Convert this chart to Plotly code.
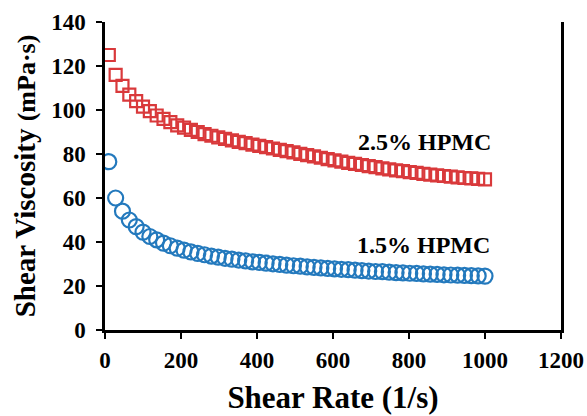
import plotly.graph_objects as go

shear_rate = [10, 28, 46, 64, 82, 100, 118, 136, 154, 172, 190, 208, 226, 244, 262, 280,
              298, 316, 334, 352, 370, 388, 406, 424, 442, 460, 478, 496, 514, 532, 550,
              568, 586, 604, 622, 640, 658, 676, 694, 712, 730, 748, 766, 784, 802, 820,
              838, 856, 874, 892, 910, 928, 946, 964, 982, 1000]

visc_25 = [125, 116, 111, 107, 104, 101.5, 99.5, 97.5, 96, 94.5, 93, 92, 91, 90, 89, 88.3,
           87.6, 86.9, 86.2, 85.5, 84.9, 84.3, 83.7, 83.1, 82.5, 81.9, 81.3, 80.7, 80.1, 79.5,
           78.9, 78.3, 77.7, 77.1, 76.5, 76, 75.5, 75, 74.5, 74, 73.5, 73, 72.6, 72.2, 71.8,
           71.4, 71, 70.6, 70.3, 70, 69.7, 69.4, 69.1, 68.9, 68.7, 68.5]

visc_15 = [76.5, 60, 54, 50, 47, 44.5, 42.5, 41, 39.5, 38.3, 37.2, 36.3, 35.5, 34.8, 34.2,
           33.6, 33.1, 32.6, 32.2, 31.8, 31.4, 31, 30.7, 30.4, 30.1, 29.8, 29.5, 29.2, 29,
           28.7, 28.5, 28.2, 28, 27.8, 27.6, 27.4, 27.2, 27, 26.8, 26.6, 26.5, 26.3, 26.1,
           26, 25.8, 25.7, 25.5, 25.4, 25.3, 25.1, 25, 24.9, 24.8, 24.7, 24.6, 24.5]

labels = ["2.5% HPMC", "1.5% HPMC"]
label_x = [1020, 1018]
label_y = [85.5, 38.5]

RED = "#d9393b"
BLUE = "#2379bd"
FONT = "Liberation Serif"

fig = go.Figure()
fig.add_trace(go.Scatter(
    x=shear_rate, y=visc_25, mode="markers", name=labels[0],
    marker=dict(symbol="square-open", size=12, color=RED, line=dict(width=2.2, color=RED)),
))
fig.add_trace(go.Scatter(
    x=shear_rate, y=visc_15, mode="markers", name=labels[1],
    marker=dict(symbol="circle-open", size=15, color=BLUE, line=dict(width=2.2, color=BLUE)),
))

for t, xv, yv in zip(labels, label_x, label_y):
    fig.add_annotation(x=xv, y=yv, text="<b>" + t + "</b>", showarrow=False,
                       xanchor="right", yanchor="middle",
                       font=dict(family=FONT, size=24, color="black"))

axis_common = dict(
    showgrid=False, zeroline=False, showline=True, linecolor="black", linewidth=2.5,
    ticks="outside", ticklen=6, tickwidth=2, tickcolor="black", automargin=False,
    tickfont=dict(family=FONT, size=23, color="black"),
)

fig.update_xaxes(range=[0, 1200], dtick=200, tickprefix="<b>", ticksuffix="</b>",
                 ticklabelstandoff=2,
                 title=dict(text="<b>Shear Rate (1/s)</b>", standoff=14,
                            font=dict(family=FONT, size=31, color="black")),
                 **axis_common)
fig.update_yaxes(range=[0, 140], dtick=20, tickprefix="<b>", ticksuffix="</b>",
                 mirror=True, ticklabelstandoff=6,
                 title=dict(text="<b>Shear Viscosity <span style='font-size:26px'>(mPa·s)</span></b>",
                            standoff=8,
                            font=dict(family=FONT, size=29, color="black")),
                 **axis_common)

fig.update_layout(
    width=587, height=416, showlegend=False,
    margin=dict(l=105, r=26, t=22, b=86, autoexpand=False),
    paper_bgcolor="white", plot_bgcolor="white",
)

fig.write_html("out.html")
